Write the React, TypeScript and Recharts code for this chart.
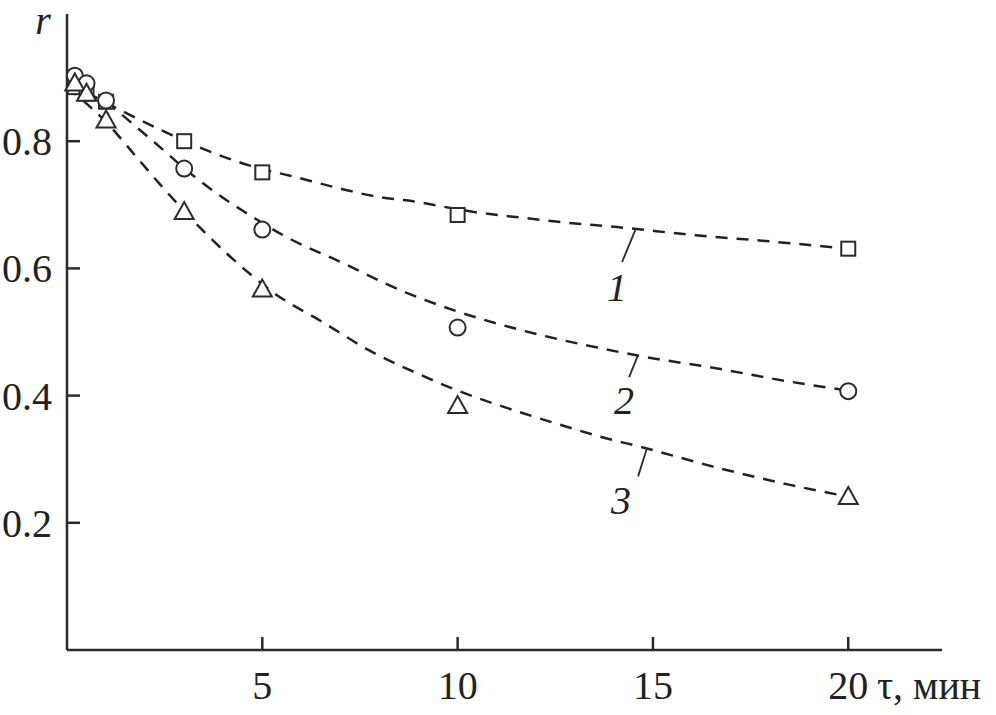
import { ComposedChart, Line, Scatter, XAxis, YAxis, ReferenceLine, ReferenceDot } from "recharts"

const INK = "#2b2b2b"
const FONT = "'Liberation Serif', 'Times New Roman', serif"

// measured points
const tMeasured = [0.2, 0.5, 1, 3, 5, 10, 20]
const r1Measured = [0.885, 0.875, 0.862, 0.8, 0.751, 0.684, 0.631]
const r2Measured = [0.903, 0.891, 0.864, 0.757, 0.661, 0.507, 0.407]
const r3Measured = [0.893, 0.877, 0.835, 0.691, 0.569, 0.386, 0.243]

// dashed fitted curves
const fit1T = [0, 1, 2.05, 2.7, 3.9, 5, 5.69, 6.9, 8, 8.68, 10.5, 11.75, 12.93, 14.08, 16.1, 17.89, 20]
const fit1R = [0.888, 0.86, 0.828, 0.809, 0.778, 0.756, 0.746, 0.727, 0.712, 0.707, 0.688, 0.679, 0.671, 0.665, 0.652, 0.643, 0.631]
const fit2T = [0, 1, 2.03, 3.31, 3.9, 4.49, 5.69, 6.9, 8.68, 9.91, 11.14, 12.34, 13.62, 14.69, 16.61, 18.4, 20]
const fit2R = [0.888, 0.86, 0.809, 0.742, 0.715, 0.691, 0.647, 0.613, 0.562, 0.534, 0.511, 0.492, 0.475, 0.462, 0.443, 0.423, 0.408]
const fit3T = [0, 1, 1.85, 2.37, 3.47, 4.08, 4.67, 5.26, 6.53, 7.74, 8.89, 10.04, 11.24, 12.42, 13.62, 14.77, 16.69, 18.48, 20]
const fit3R = [0.885, 0.83, 0.77, 0.733, 0.66, 0.624, 0.592, 0.563, 0.516, 0.471, 0.437, 0.407, 0.381, 0.358, 0.336, 0.318, 0.286, 0.26, 0.241]

const X_TICKS = [5, 10, 15, 20]
const Y_TICKS = [0.2, 0.4, 0.6, 0.8]
const CURVE_NAMES = ["1", "2", "3"]

const pts = (xs: number[], ys: number[]) => xs.map((x, i) => ({ x, y: ys[i] }))

// where the curve numbers and their leader strokes sit
const callouts = [
    { at: { x: 14.08, y: 0.57 }, lead: [{ x: 14.21, y: 0.61 }, { x: 14.56, y: 0.662 }] },
    { at: { x: 14.26, y: 0.393 }, lead: [{ x: 14.39, y: 0.429 }, { x: 14.62, y: 0.464 }] },
    { at: { x: 14.18, y: 0.236 }, lead: [{ x: 14.62, y: 0.273 }, { x: 14.85, y: 0.318 }] },
]

const Square = (p: any) => (
    <rect x={p.cx - 7} y={p.cy - 7} width={14} height={14} fill="#fff" stroke={INK} strokeWidth={2} />
)
const Circle = (p: any) => <circle cx={p.cx} cy={p.cy} r={8} fill="#fff" stroke={INK} strokeWidth={2} />
const Triangle = (p: any) => (
    <polygon
        points={`${p.cx},${p.cy - 8.5} ${p.cx + 9.5},${p.cy + 8.5} ${p.cx - 9.5},${p.cy + 8.5}`}
        fill="#fff"
        stroke={INK}
        strokeWidth={2}
    />
)

const XTick = (p: any) => {
    const v = p.payload.value
    return (
        <g>
            <line x1={p.x} y1={p.y} x2={p.x} y2={p.y - 13} stroke={INK} strokeWidth={2.5} />
            <text x={p.x} y={p.y + 49} textAnchor="middle" fontFamily={FONT} fontSize={40} fill="#222">
                {v}
            </text>
        </g>
    )
}

const YTick = (p: any) => (
    <g>
        <line x1={p.x} y1={p.y} x2={p.x + 13} y2={p.y} stroke={INK} strokeWidth={2.5} />
        <text x={p.x - 15} y={p.y} dy="0.35em" textAnchor="end" fontFamily={FONT} fontSize={40} fill="#222">
            {p.payload.value.toFixed(1)}
        </text>
    </g>
)

const dashed = { stroke: "#222", strokeWidth: 2.5, strokeDasharray: "12 9", dot: false, isAnimationActive: false }

export default function App() {
    return (
        <div style={{ position: "absolute", left: 0, top: 0 }}>
            <ComposedChart width={996} height={715} margin={{ top: 14, right: 54, left: 0, bottom: 0 }}>
                <XAxis
                    type="number"
                    dataKey="x"
                    domain={[0, 22.4]}
                    ticks={X_TICKS}
                    height={65}
                    tickSize={0}
                    tickMargin={0}
                    tick={<XTick />}
                    axisLine={{ stroke: INK, strokeWidth: 2.5 }}
                    label={({ viewBox }: any) => (
                        <text
                            x={viewBox.x + viewBox.width - 65}
                            y={viewBox.y + 49}
                            fontFamily={FONT}
                            fontSize={40}
                            fill="#222"
                        >
                            τ, мин
                        </text>
                    )}
                />
                <YAxis
                    type="number"
                    dataKey="y"
                    domain={[0, 1]}
                    ticks={Y_TICKS}
                    width={67}
                    tickSize={0}
                    tickMargin={0}
                    tick={<YTick />}
                    axisLine={{ stroke: INK, strokeWidth: 2.5 }}
                    label={({ viewBox }: any) => (
                        <text
                            x={viewBox.x + 43}
                            y={viewBox.y + 20}
                            textAnchor="middle"
                            fontFamily={FONT}
                            fontStyle="italic"
                            fontSize={40}
                            fill="#222"
                        >
                            r
                        </text>
                    )}
                />

                <Line data={pts(fit1T, fit1R)} dataKey="y" type="monotone" {...dashed} />
                <Line data={pts(fit2T, fit2R)} dataKey="y" type="monotone" {...dashed} />
                <Line data={pts(fit3T, fit3R)} dataKey="y" type="monotone" {...dashed} />

                {callouts.map((c, i) => (
                    <ReferenceLine
                        key={"l" + i}
                        segment={c.lead}
                        stroke={INK}
                        strokeWidth={1.8}
                        ifOverflow="visible"
                    />
                ))}
                {callouts.map((c, i) => (
                    <ReferenceDot
                        key={"d" + i}
                        x={c.at.x}
                        y={c.at.y}
                        r={0}
                        ifOverflow="visible"
                        shape={(p: any) => (
                            <text
                                x={p.cx}
                                y={p.cy}
                                dy="0.35em"
                                textAnchor="middle"
                                fontFamily={FONT}
                                fontStyle="italic"
                                fontSize={40}
                                fill="#222"
                            >
                                {CURVE_NAMES[i]}
                            </text>
                        )}
                    />
                ))}

                <Scatter data={pts(tMeasured, r1Measured)} dataKey="y" shape={<Square />} isAnimationActive={false} />
                <Scatter data={pts(tMeasured, r2Measured)} dataKey="y" shape={<Circle />} isAnimationActive={false} />
                <Scatter data={pts(tMeasured, r3Measured)} dataKey="y" shape={<Triangle />} isAnimationActive={false} />
            </ComposedChart>
        </div>
    )
}
